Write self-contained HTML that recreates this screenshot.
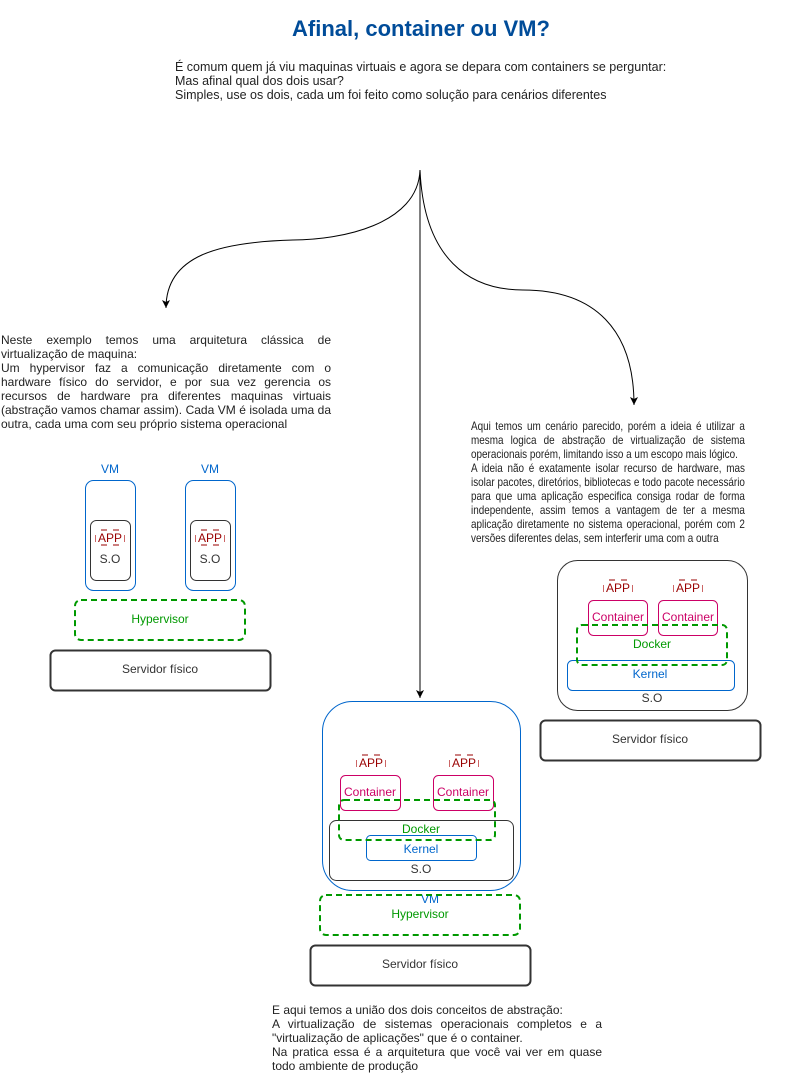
<!DOCTYPE html>
<html><head><meta charset="utf-8"><style>
body{margin:0;background:#fff;width:802px;height:1090px;position:relative;overflow:hidden;font-family:"Liberation Sans",Arial,sans-serif;}
.p{position:absolute;font-size:11px;line-height:14px;color:#222;}
.j{text-align:justify;text-align-last:justify;white-space:nowrap}
.l{white-space:nowrap}
svg{position:absolute;left:0;top:0}
</style></head><body>
<svg width="802" height="1090" font-family="Liberation Sans, Arial, sans-serif" font-size="12">
<defs><marker id="a" markerWidth="10" markerHeight="10" refX="8" refY="4" orient="auto" markerUnits="userSpaceOnUse"><path d="M0,0 L8,4 L0,8 L2,4 Z" fill="#000"/></marker></defs>
<text x="421" y="36" text-anchor="middle" font-size="22" font-weight="bold" fill="#004C99">Afinal, container ou VM?</text>
<g fill="none" stroke="#000" stroke-width="1">
<path d="M420,170 L420,698" marker-end="url(#a)"/>
<path d="M420,170 C418,225 340,240 293,240 C220,242 166,255 166,308" marker-end="url(#a)"/>
<path d="M420,170 C424,260 470,290 523,290 C595,290 634,330 634,405" marker-end="url(#a)"/>
</g>
<g>
<text x="110" y="473" text-anchor="middle" fill="#0066CC">VM</text>
<text x="210" y="473" text-anchor="middle" fill="#0066CC">VM</text>
<rect x="85.5" y="480.5" width="50" height="110" rx="8" fill="none" stroke="#0066CC"/>
<rect x="185.5" y="480.5" width="50" height="110" rx="8" fill="none" stroke="#0066CC"/>
<rect x="90.5" y="520.5" width="40" height="60" rx="6" fill="none" stroke="#333"/>
<rect x="190.5" y="520.5" width="40" height="60" rx="6" fill="none" stroke="#333"/>
<text x="110" y="563" text-anchor="middle" fill="#333">S.O</text>
<text x="210" y="563" text-anchor="middle" fill="#333">S.O</text>
<rect x="75" y="600" width="170" height="40" rx="6" fill="none" stroke="#009900" stroke-width="2" stroke-dasharray="6 4"/>
<text x="160" y="623" text-anchor="middle" fill="#009900">Hypervisor</text>
<rect x="50.5" y="650.5" width="220" height="40" rx="5" fill="none" stroke="#333" stroke-width="2"/>
<text x="160" y="673" text-anchor="middle" fill="#333">Servidor físico</text>
</g>
<g>
<rect x="322.5" y="701.5" width="198" height="189" rx="30" fill="none" stroke="#0066CC"/>
<rect x="340.5" y="775.5" width="60" height="35" rx="5" fill="none" stroke="#CC0066"/>
<rect x="433.5" y="775.5" width="60" height="35" rx="5" fill="none" stroke="#CC0066"/>
<text x="370" y="796" text-anchor="middle" fill="#CC0066">Container</text>
<text x="463" y="796" text-anchor="middle" fill="#CC0066">Container</text>
<rect x="329.5" y="820.5" width="184" height="60" rx="7" fill="none" stroke="#333"/>
<rect x="366.5" y="835.5" width="110" height="25" rx="4" fill="none" stroke="#0066CC"/>
<rect x="339" y="800" width="156" height="40" rx="5" fill="none" stroke="#009900" stroke-width="2" stroke-dasharray="6 4"/>
<text x="421" y="833" text-anchor="middle" fill="#009900">Docker</text>
<text x="421" y="853" text-anchor="middle" fill="#0066CC">Kernel</text>
<text x="421" y="873" text-anchor="middle" fill="#333">S.O</text>
<text x="430" y="903" text-anchor="middle" fill="#0066CC">VM</text>
<rect x="320" y="895" width="200" height="40" rx="6" fill="none" stroke="#009900" stroke-width="2" stroke-dasharray="6 4"/>
<text x="420" y="918" text-anchor="middle" fill="#009900">Hypervisor</text>
<rect x="310.5" y="945.5" width="220" height="40" rx="5" fill="none" stroke="#333" stroke-width="2"/>
<text x="420" y="968" text-anchor="middle" fill="#333">Servidor físico</text>
</g>
<g>
<rect x="557.5" y="560.5" width="190" height="150" rx="20" fill="none" stroke="#333"/>
<rect x="588.5" y="600.5" width="59" height="35" rx="5" fill="none" stroke="#CC0066"/>
<rect x="658.5" y="600.5" width="59" height="35" rx="5" fill="none" stroke="#CC0066"/>
<text x="618" y="621" text-anchor="middle" fill="#CC0066">Container</text>
<text x="688" y="621" text-anchor="middle" fill="#CC0066">Container</text>
<rect x="567.5" y="660.5" width="167" height="30" rx="5" fill="none" stroke="#0066CC"/>
<rect x="577" y="625" width="150" height="40" rx="5" fill="none" stroke="#009900" stroke-width="2" stroke-dasharray="6 4"/>
<text x="652" y="648" text-anchor="middle" fill="#009900">Docker</text>
<text x="650" y="678" text-anchor="middle" fill="#0066CC">Kernel</text>
<text x="652" y="702" text-anchor="middle" fill="#333">S.O</text>
<rect x="540.5" y="720.5" width="220" height="40" rx="5" fill="none" stroke="#333" stroke-width="2"/>
<text x="650" y="743" text-anchor="middle" fill="#333">Servidor físico</text>
</g>
<g font-size="12">
<g transform="translate(110,538)"><text x="0" y="4" text-anchor="middle" fill="#990000">APP</text><path d="M-14.5,-3v7M14.5,-3v7" stroke="#CC6666"/><path d="M-9,-8h6M3,-8h6M-9,7h6M3,7h6" stroke="#990000"/></g>
<g transform="translate(210,538)"><text x="0" y="4" text-anchor="middle" fill="#990000">APP</text><path d="M-14.5,-3v7M14.5,-3v7" stroke="#CC6666"/><path d="M-9,-8h6M3,-8h6M-9,7h6M3,7h6" stroke="#990000"/></g>
<g transform="translate(371,763)"><text x="0" y="4" text-anchor="middle" fill="#990000">APP</text><path d="M-14.5,-3v7M14.5,-3v7" stroke="#CC6666"/><path d="M-9,-8h6M3,-8h6" stroke="#990000"/></g>
<g transform="translate(464,763)"><text x="0" y="4" text-anchor="middle" fill="#990000">APP</text><path d="M-14.5,-3v7M14.5,-3v7" stroke="#CC6666"/><path d="M-9,-8h6M3,-8h6" stroke="#990000"/></g>
<g transform="translate(618,588)"><text x="0" y="4" text-anchor="middle" fill="#990000">APP</text><path d="M-14.5,-3v7M14.5,-3v7" stroke="#CC6666"/><path d="M-9,-8h6M3,-8h6" stroke="#990000"/></g>
<g transform="translate(688,588)"><text x="0" y="4" text-anchor="middle" fill="#990000">APP</text><path d="M-14.5,-3v7M14.5,-3v7" stroke="#CC6666"/><path d="M-9,-8h6M3,-8h6" stroke="#990000"/></g>
</g>
</svg>

<div class="p l" style="left:175px;top:60px;font-size:12.5px;">É comum quem já viu maquinas virtuais e agora se depara com containers se perguntar:<br>Mas afinal qual dos dois usar?<br>Simples, use os dois, cada um foi feito como solução para cenários diferentes</div>

<div class="p" style="left:1px;top:333px;width:330px;font-size:12px;">
<div class="j">Neste exemplo temos uma arquitetura clássica de</div>
<div class="l">virtualização de maquina:</div>
<div class="j">Um hypervisor faz a comunicação diretamente com o</div>
<div class="j">hardware físico do servidor, e por sua vez gerencia os</div>
<div class="j">recursos de hardware pra diferentes maquinas virtuais</div>
<div class="j">(abstração vamos chamar assim). Cada VM é isolada uma da</div>
<div class="l">outra, cada uma com seu próprio sistema operacional</div>
</div>

<div class="p" style="left:471px;top:419px;width:332px;font-size:12px;transform:scaleX(0.825);transform-origin:0 0;">
<div class="j">Aqui temos um cenário parecido, porém a ideia é utilizar a</div>
<div class="j">mesma logica de abstração de virtualização de sistema</div>
<div class="l">operacionais porém, limitando isso a um escopo mais lógico.</div>
<div class="j">A ideia não é exatamente isolar recurso de hardware, mas</div>
<div class="j">isolar pacotes, diretórios, bibliotecas e todo pacote necessário</div>
<div class="j">para que uma aplicação especifica consiga rodar de forma</div>
<div class="j">independente, assim temos a vantagem de ter a mesma</div>
<div class="j">aplicação diretamente no sistema operacional, porém com 2</div>
<div class="l">versões diferentes delas, sem interferir uma com a outra</div>
</div>

<div class="p" style="left:272px;top:1003px;width:330px;font-size:12px;">
<div class="l">E aqui temos a união dos dois conceitos de abstração:</div>
<div class="j">A virtualização de sistemas operacionais completos e a</div>
<div class="l">"virtualização de aplicações" que é o container.</div>
<div class="j">Na pratica essa é a arquitetura que você vai ver em quase</div>
<div class="l">todo ambiente de produção</div>
</div>
</body></html>
